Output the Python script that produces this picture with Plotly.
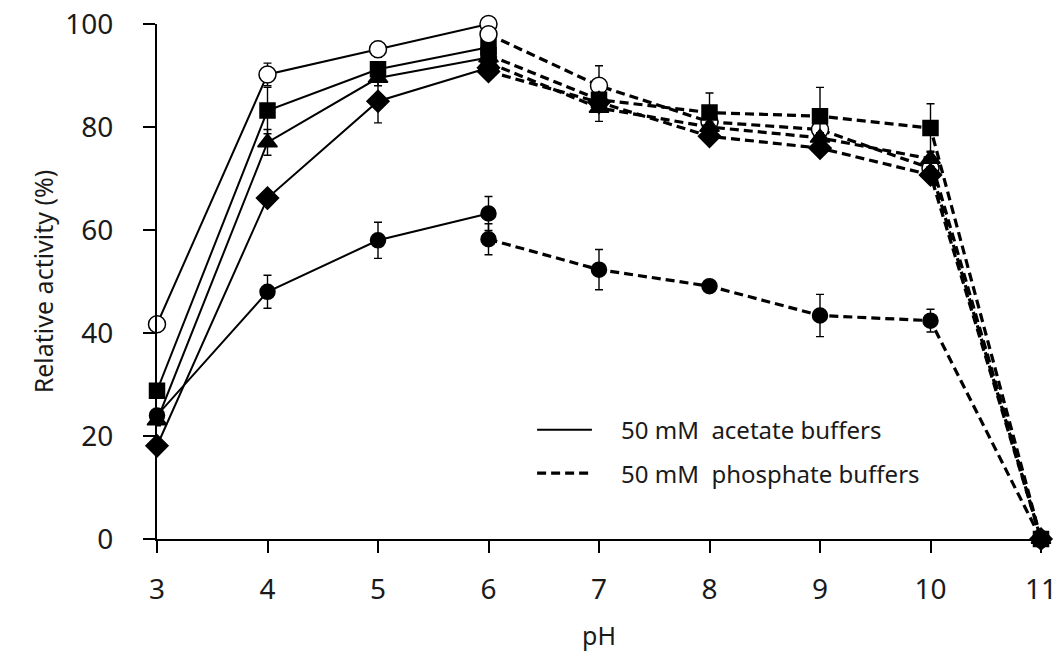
import plotly.graph_objects as go

# pH values for each buffer system
ph_acetate = [3, 4, 5, 6]
ph_phosphate = [6, 7, 8, 9, 10, 11]

# Relative activity (%) in 50 mM acetate buffers, one list per sample
acet_open_circle = [41.7, 90.2, 95.1, 100.0]
acet_square = [28.8, 83.2, 91.2, 95.5]
acet_triangle = [23.0, 77.0, 89.5, 93.5]
acet_diamond = [18.1, 66.2, 85.0, 91.5]
acet_circle = [24.0, 48.0, 58.0, 63.2]

acet_open_circle_err = [0.5, 2.2, 1.5, 0.5]
acet_square_err = [1.0, 4.5, 1.5, 1.0]
acet_triangle_err = [1.0, 2.5, 1.5, 1.0]
acet_diamond_err = [0.5, 1.0, 4.2, 1.0]
acet_circle_err = [0.5, 3.2, 3.5, 3.3]

# Relative activity (%) in 50 mM phosphate buffers
phos_open_circle = [98.0, 88.0, 81.0, 79.5, 72.0, 0.0]
phos_square = [94.0, 85.3, 82.8, 82.1, 79.8, 0.0]
phos_triangle = [92.5, 83.7, 80.0, 77.9, 73.8, 0.0]
phos_diamond = [90.8, 84.8, 78.2, 75.9, 70.7, 0.0]
phos_circle = [58.2, 52.3, 49.1, 43.4, 42.4, 0.0]

phos_open_circle_err = [0.5, 3.9, 1.0, 1.0, 1.0, 0.0]
phos_square_err = [1.0, 1.0, 3.8, 5.6, 4.7, 0.0]
phos_triangle_err = [1.0, 2.6, 1.0, 1.0, 1.5, 0.0]
phos_diamond_err = [1.0, 1.0, 1.0, 1.0, 1.0, 0.0]
phos_circle_err = [3.0, 3.9, 0.8, 4.1, 2.2, 0.0]

FONT = "Noto Sans"
INK = "#1a1a1a"

fig = go.Figure()


def add_series(x, y, err, symbol, size, fill, dash, width):
    fig.add_trace(go.Scatter(
        x=x, y=y,
        mode="lines+markers",
        line=dict(color="black", width=width, dash=dash),
        marker=dict(symbol=symbol, size=size, color=fill,
                    line=dict(color="black", width=1.5)),
        error_y=dict(type="data", array=err, visible=True,
                     color="black", thickness=1.4, width=4),
        cliponaxis=False,
        showlegend=False,
    ))


solid = dict(dash="solid", width=2)
dashed = dict(dash="9px,5px", width=3.2)

# acetate series (solid lines)
add_series(ph_acetate, acet_circle, acet_circle_err, "circle", 15, "black", **solid)
add_series(ph_acetate, acet_diamond, acet_diamond_err, "diamond", 17, "black", **solid)
add_series(ph_acetate, acet_triangle, acet_triangle_err, "triangle-up", 17, "black", **solid)
add_series(ph_acetate, acet_square, acet_square_err, "square", 15, "black", **solid)
add_series(ph_acetate, acet_open_circle, acet_open_circle_err, "circle", 17, "white", **solid)

# phosphate series (dashed lines)
add_series(ph_phosphate, phos_open_circle, phos_open_circle_err, "circle", 17, "white", **dashed)
add_series(ph_phosphate, phos_circle, phos_circle_err, "circle", 15, "black", **dashed)
add_series(ph_phosphate, phos_diamond, phos_diamond_err, "diamond", 17, "black", **dashed)
add_series(ph_phosphate, phos_triangle, phos_triangle_err, "triangle-up", 17, "black", **dashed)
add_series(ph_phosphate, phos_square, phos_square_err, "square", 15, "black", **dashed)

# legend drawn as line samples plus text
legend_items = [
    ("50 mM\u00a0 acetate buffers", "solid", 2, 0.212),
    ("50 mM\u00a0 phosphate buffers", "9px,5px", 3.2, 0.128),
]
for label, dash, w, yp in legend_items:
    fig.add_shape(type="line", xref="paper", yref="paper",
                  x0=0.430, x1=0.492, y0=yp, y1=yp,
                  line=dict(color="black", width=w, dash=dash))
    fig.add_annotation(xref="paper", yref="paper", x=0.523, y=yp,
                       text=label, showarrow=False, xanchor="left",
                       yanchor="middle",
                       font=dict(family=FONT, size=24, color=INK))

axis_common = dict(
    showline=True, linecolor="black", linewidth=2,
    ticks="outside", ticklen=12, tickwidth=2, tickcolor="black",
    showgrid=False, zeroline=False, automargin=False,
    ticklabeloverflow="allow",
    tickfont=dict(family=FONT, size=28, color=INK),
    title_font=dict(family=FONT, size=25, color=INK),
)

fig.update_layout(
    width=1057, height=656,
    margin=dict(l=157, r=16, t=24, b=117),
    paper_bgcolor="white", plot_bgcolor="white",
    xaxis=dict(range=[3, 11], tickmode="linear", tick0=3, dtick=1,
               ticklabelstandoff=12,
               title=dict(text="pH", standoff=22), **axis_common),
    yaxis=dict(range=[0, 100], tickmode="linear", tick0=0, dtick=20,
               ticklabelstandoff=24,
               title=dict(text="Relative activity (%)", standoff=5),
               **axis_common),
)

fig.write_html("out.html")
